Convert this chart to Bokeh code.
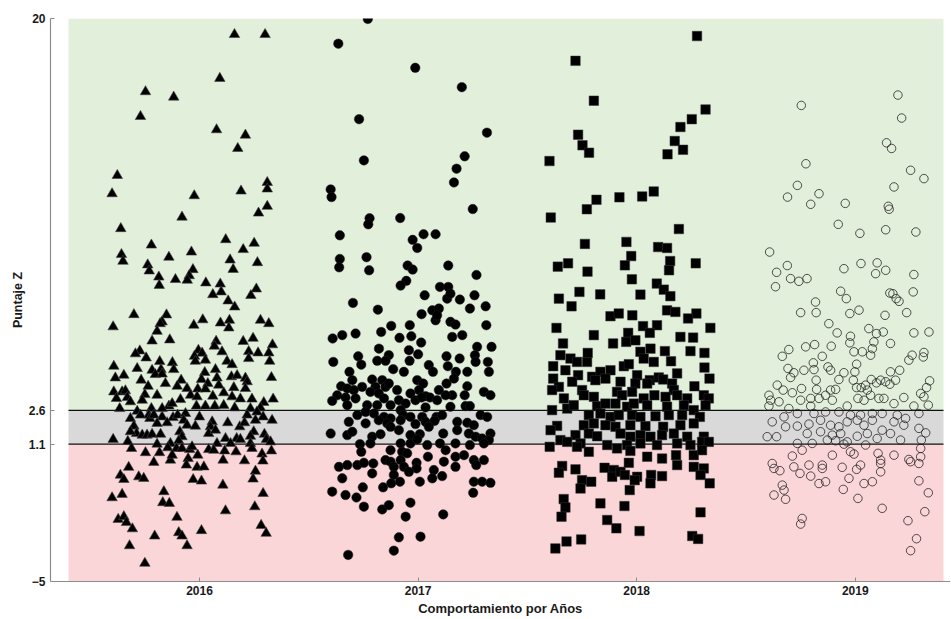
from bokeh.plotting import figure
from bokeh.models import FixedTicker
from bokeh.embed import file_html
from bokeh.resources import INLINE

# ---------------- data ----------------
years = ["2016", "2017", "2018", "2019"]
band_bottom = [-5, 1.1, 2.6]
band_top = [1.1, 2.6, 20]
band_colors = ["#fbd6d9", "#d9d9d9", "#e2efdb"]
thresholds = [1.1, 2.6]
y_ticks = [-5, 1.1, 2.6, 20]
y_tick_labels = ["\u22125", "1.1", "2.6", "20"]

# (jitter offset from the category, Puntaje Z)
pts_2016 = [
    (0.16, 19.29), (0.30, 19.29), (0.093, 17.34), (-0.247, 16.75), (-0.118, 16.51), (-0.27, 15.65),
    (0.078, 15.06), (0.21, 14.82), (0.175, 14.23), (-0.376, 13.03), (-0.40, 12.22), (-0.024, 12.13),
    (0.19, 12.34), (0.31, 12.72), (0.31, 12.43), (0.31, 11.66), (0.27, 11.36), (-0.08, 11.18),
    (-0.36, 10.67), (-0.22, 9.94), (0.12, 10.18), (0.25, 10.02), (0.20, 9.74), (-0.357, 9.52),
    (-0.35, 9.22), (-0.14, 9.40), (-0.037, 9.63), (0.14, 9.28), (0.265, 9.16), (-0.237, 9.06),
    (-0.23, 8.79), (-0.03, 8.85), (-0.047, 8.58), (-0.056, 8.38), (0.154, 8.86), (-0.186, 8.52),
    (-0.184, 8.15), (-0.11, 8.41), (0.029, 8.26), (0.095, 8.21), (0.061, 7.74), (0.099, 7.86),
    (0.26, 7.99), (0.235, 7.70),
    (0.131, 7.46), (0.161, 7.19), (-0.30, 6.85), (-0.151, 6.84), (-0.395, 6.31), (-0.171, 6.53),
    (-0.18, 6.45), (-0.194, 6.11), (-0.026, 6.38), (0.015, 6.62), (0.096, 6.48), (0.137, 6.60),
    (0.134, 6.26), (0.279, 6.60), (0.317, 6.45), (-0.217, 5.68), (-0.136, 5.73), (0.076, 5.67),
    (0.068, 5.45), (0.20, 5.66), (0.245, 5.80), (0.334, 5.51), (-0.273, 5.24), (-0.293, 5.11),
    (-0.244, 4.93), (-0.005, 5.27), (0.012, 5.14), (-0.023, 5.00), (0.027, 4.83), (-0.019, 4.78),
    (0.103, 5.20), (0.225, 5.21), (0.268, 5.15), (0.317, 5.15), (0.225, 4.90), (0.321, 4.78),
    (-0.392, 4.56), (-0.182, 4.77), (-0.124, 4.72), (-0.285, 4.46), (-0.217, 4.38), (-0.176, 4.41),
    (-0.118, 4.41), (-0.202, 4.19), (-0.171, 4.21), (0.126, 4.78), (0.149, 4.63), (0.024, 4.28),
    (0.073, 4.41), (0.146, 4.09), (0.172, 4.15), (0.21, 4.03), (0.218, 3.87), (0.329, 4.06),
    (-0.385, 4.04), (-0.346, 4.16), (-0.267, 3.94), (-0.156, 3.79), (-0.084, 3.94), (0.009, 3.97),
    (0.038, 3.79), (0.08, 4.04), (0.088, 3.72), (-0.235, 3.67), (-0.102, 3.67), (-0.057, 3.57),
    (-0.008, 3.55), (0.027, 3.55), (0.157, 3.61), (0.21, 3.57), (-0.392, 3.42), (-0.354, 3.42),
    (-0.339, 3.47), (-0.25, 3.30), (-0.194, 3.27), (-0.041, 3.27), (-0.011, 3.20), (0.061, 3.23),
    (0.111, 3.38), (0.149, 3.20), (0.187, 3.11), (0.24, 3.10), (0.337, 3.10), (-0.38, 3.13),
    (-0.33, 3.17), (-0.316, 2.98), (-0.262, 3.05), (-0.14, 2.79), (-0.125, 2.90), (-0.087, 3.08),
    (-0.014, 2.79), (0.027, 2.79), (0.07, 2.79), (0.111, 2.82), (0.161, 2.71), (0.233, 2.68),
    (0.294, 2.95), (0.279, 2.71), (-0.365, 2.68), (-0.285, 2.56), (-0.22, 2.68), (-0.171, 2.68),
    (0.263, 2.53), (-0.27, 2.39), (-0.232, 2.39), (-0.316, 2.24), (-0.171, 2.31), (-0.121, 2.28),
    (-0.10, 2.39), (-0.064, 2.46), (0.0, 2.31), (0.058, 2.09), (0.129, 2.05), (0.218, 2.39),
    (0.291, 2.31), (0.332, 2.16), (-0.227, 2.24), (-0.209, 2.39), (-0.194, 2.02), (-0.148, 2.05),
    (-0.072, 2.16), (-0.057, 1.94), (-0.019, 1.90), (0.05, 1.87), (0.184, 1.87), (0.206, 2.05),
    (0.256, 2.16), (-0.30, 1.90), (-0.288, 1.57), (-0.316, 1.65), (-0.262, 1.50), (-0.24, 1.50),
    (-0.217, 1.54), (-0.178, 1.54), (-0.09, 1.65), (-0.08, 1.43), (0.042, 1.57), (0.073, 1.72),
    (0.119, 1.35), (0.17, 1.35), (0.187, 1.31), (0.248, 1.65), (0.233, 1.45), (0.297, 1.54),
    (-0.395, 1.31), (-0.328, 1.22), (-0.194, 1.10), (-0.133, 1.13), (-0.095, 1.25), (0.08, 1.13),
    (0.142, 1.13), (0.233, 1.13), (0.306, 1.31), (0.325, 1.20), (-0.311, 0.91), (-0.247, 0.72),
    (-0.183, 0.72), (-0.145, 0.94), (-0.105, 0.91), (-0.08, 0.91), (-0.045, 0.86), (-0.034, 0.98),
    (0.042, 0.86), (0.065, 0.83), (0.115, 0.80), (0.167, 0.76), (0.24, 0.91), (0.286, 0.66),
    (0.329, 0.80), (-0.133, 0.39), (-0.209, 0.29), (-0.125, 0.61), (-0.052, 0.46), (-0.008, 0.61),
    (0.108, 0.39), (0.206, 0.36), (0.29, 0.35), (-0.06, 0.17), (-0.011, 0.07), (0.02, 0.09),
    (-0.324, 0.07), (0.256, -0.10), (-0.362, -0.28), (-0.346, -0.47), (-0.278, -0.35), (-0.255, -0.42),
    (0.245, -0.45), (-0.029, -0.47), (0.009, -0.54), (0.107, -0.72), (-0.40, -1.28), (-0.354, -1.13),
    (-0.163, -1.01), (0.291, -1.09), (-0.168, -1.50), (-0.138, -1.53), (0.253, -1.68), (0.119, -1.86),
    (-0.103, -2.15), (-0.372, -2.24), (-0.346, -2.12), (-0.334, -2.38), (-0.307, -2.66), (0.282, -2.51),
    (-0.205, -2.98), (-0.095, -2.83), (-0.08, -2.98), (0.009, -2.74), (0.305, -2.86), (-0.32, -3.41),
    (-0.057, -3.41), (-0.25, -4.19),
]

pts_2017 = [
    (-0.23, 19.98), (-0.365, 18.88), (-0.013, 17.81), (0.20, 16.95), (-0.27, 15.53), (0.315, 14.93),
    (-0.248, 13.70), (0.213, 13.88), (0.176, 13.33), (0.164, 12.72), (-0.40, 12.41), (-0.396, 12.07),
    (0.25, 11.54), (-0.222, 11.13), (-0.228, 10.86), (-0.082, 11.14), (-0.358, 10.37), (0.025, 10.42),
    (0.08, 10.42), (-0.025, 10.17), (-0.004, 9.81), (-0.358, 9.32), (-0.361, 8.95), (-0.236, 9.40),
    (-0.224, 8.82), (-0.048, 9.03), (-0.025, 8.85), (0.138, 9.03), (0.267, 8.61), (-0.054, 8.35),
    (-0.08, 8.14), (0.10, 8.08), (0.138, 8.08),
    (0.03, 7.71), (0.133, 7.56), (0.148, 7.78), (0.191, 7.52), (0.258, 7.71), (-0.298, 7.37),
    (-0.184, 7.07), (0.016, 6.87), (0.065, 7.04), (0.095, 7.12), (0.08, 6.60), (0.087, 6.82),
    (0.237, 7.12), (0.309, 7.22), (0.148, 6.53), (0.171, 6.41), (0.312, 6.38), (-0.123, 6.35),
    (-0.038, 6.38), (-0.391, 5.79), (-0.347, 5.94), (-0.286, 6.01), (-0.169, 6.08), (-0.085, 5.82),
    (-0.031, 5.89), (0.014, 5.61), (0.156, 5.86), (0.202, 5.94), (-0.179, 5.34), (-0.042, 5.27),
    (0.0, 5.09), (0.27, 5.42), (0.336, 5.42), (-0.388, 4.75), (-0.274, 5.00), (-0.26, 4.63),
    (-0.187, 4.80), (-0.134, 5.05), (-0.149, 4.80), (-0.039, 4.80), (0.049, 4.61), (0.068, 4.31),
    (0.13, 5.00), (0.136, 4.56), (0.19, 4.90), (0.26, 5.05), (0.263, 4.75), (0.319, 4.75),
    (-0.314, 4.31), (-0.114, 4.43), (-0.065, 4.31), (0.173, 4.31), (0.225, 4.31), (0.324, 4.31),
    (0.164, 4.01), (-0.301, 3.94), (-0.21, 3.97), (-0.164, 3.94), (-0.004, 3.94), (0.023, 3.79),
    (0.13, 3.79), (0.225, 3.67), (-0.352, 3.67), (-0.256, 3.64), (-0.195, 3.64), (-0.149, 3.64),
    (-0.134, 3.79), (-0.37, 3.27), (-0.324, 3.57), (-0.294, 3.50), (-0.218, 3.42), (-0.18, 3.35),
    (-0.096, 3.50), (-0.035, 3.35), (0.004, 3.50), (0.034, 3.23), (0.054, 3.17), (0.095, 3.50),
    (0.156, 3.27), (0.213, 3.27), (0.301, 3.42), (0.331, 3.27), (-0.393, 3.02), (-0.332, 3.17),
    (-0.286, 3.13), (-0.156, 3.13), (-0.088, 3.05), (-0.057, 2.90), (-0.012, 3.05), (0.016, 3.17),
    (0.087, 3.05), (0.126, 3.27), (0.148, 2.76), (0.217, 2.79), (0.237, 2.79), (-0.324, 2.83),
    (-0.233, 2.83), (-0.187, 2.83), (-0.126, 2.83), (-0.08, 2.61), (0.034, 2.73), (-0.278, 2.39),
    (-0.24, 2.53), (-0.202, 2.46), (-0.156, 2.31), (-0.126, 2.24), (-0.068, 2.39), (-0.035, 2.31),
    (0.019, 2.31), (0.084, 2.31), (0.11, 2.39), (0.286, 2.39), (0.316, 2.31), (-0.317, 2.09),
    (-0.24, 2.02), (-0.18, 2.16), (-0.141, 2.02), (-0.08, 2.16), (-0.012, 1.99), (0.034, 2.09),
    (0.075, 2.13), (0.179, 2.09), (0.225, 2.05), (0.255, 1.94), (-0.40, 1.57), (-0.324, 1.50),
    (-0.301, 1.65), (-0.21, 1.43), (-0.172, 1.54), (-0.126, 1.87), (-0.088, 1.72), (-0.035, 1.50),
    (0.008, 1.54), (0.049, 1.87), (0.115, 1.57), (0.179, 1.72), (0.232, 1.57), (0.263, 1.43),
    (0.293, 1.35), (0.331, 1.57), (0.324, 1.28), (-0.266, 1.10), (-0.218, 1.13), (-0.08, 1.13),
    (-0.035, 1.13), (-0.004, 1.31), (0.042, 1.06), (0.10, 1.13), (0.171, 1.13), (0.237, 1.06),
    (0.301, 1.13), (-0.26, 0.76), (-0.126, 0.83), (-0.073, 0.76), (-0.05, 0.69), (0.045, 0.54),
    (0.126, 0.83), (0.171, 0.54), (0.21, 0.61), (0.255, 0.39), (0.301, 0.39), (-0.362, 0.09),
    (-0.324, 0.17), (-0.278, 0.17), (-0.248, 0.27), (-0.205, 0.24), (-0.21, -0.20), (-0.149, 0.39),
    (-0.126, 0.32), (-0.111, 0.09), (-0.08, 0.39), (-0.065, 0.09), (-0.007, 0.27), (-0.007, 0.02),
    (-0.042, -0.13), (0.072, -0.05), (0.118, 0.32), (0.171, 0.09), (0.266, 0.17), (-0.347, -0.42),
    (-0.111, -0.27), (-0.083, -0.57), (-0.123, -0.64), (0.008, -0.57), (0.065, -0.42), (0.11, -0.32),
    (0.255, -0.57), (0.293, -0.57), (0.331, -0.62), (-0.393, -1.01), (-0.332, -1.16), (-0.253, -0.82),
    (-0.282, -1.27), (-0.16, -0.82), (0.252, -1.06), (-0.248, -1.68), (-0.164, -1.80), (-0.134, -1.61),
    (-0.035, -1.50), (-0.057, -2.12), (0.115, -2.02), (-0.088, -3.04), (0.011, -3.01), (-0.111, -3.63),
    (-0.32, -3.82),
]

pts_2018 = [
    (0.276, 19.22), (-0.28, 18.12), (-0.196, 16.35), (0.315, 15.96), (0.252, 15.53), (0.20, 15.18),
    (-0.268, 14.84), (0.174, 14.56), (-0.248, 14.37), (0.212, 14.17), (0.141, 13.97), (-0.218, 14.04),
    (-0.399, 13.67), (0.078, 12.32), (-0.184, 11.95), (-0.079, 12.06), (0.025, 12.10), (-0.228, 11.53),
    (-0.393, 11.16), (0.193, 10.65), (-0.237, 9.99), (-0.047, 10.08), (0.098, 9.85), (0.139, 9.81),
    (-0.025, 9.45), (-0.054, 9.04), (0.153, 9.23), (0.148, 8.82), (0.27, 9.13), (-0.361, 8.98),
    (-0.314, 9.13), (-0.225, 8.76), (-0.022, 8.42), (0.092, 8.23), (0.124, 7.96), (0.154, 7.67),
    (-0.262, 7.86), (-0.167, 7.75), (0.017, 7.74), (-0.356, 7.56),
    (-0.298, 7.22), (-0.367, 6.26), (-0.12, 6.78), (-0.082, 6.90), (-0.02, 6.82), (0.139, 7.04),
    (0.177, 6.97), (0.273, 6.90), (0.235, 6.68), (0.029, 6.34), (0.093, 6.38), (0.06, 6.04),
    (-0.039, 6.04), (0.337, 6.26), (-0.337, 5.57), (-0.196, 5.94), (-0.108, 5.57), (-0.048, 5.64),
    (-0.006, 5.71), (0.20, 5.86), (0.258, 5.83), (-0.349, 5.05), (-0.303, 4.90), (-0.273, 4.75),
    (-0.227, 4.75), (-0.224, 5.15), (0.017, 5.20), (0.063, 5.34), (0.032, 4.90), (0.078, 4.75),
    (0.129, 5.23), (0.157, 4.78), (0.246, 5.23), (0.31, 5.15), (-0.382, 4.56), (-0.326, 4.38),
    (-0.268, 4.16), (-0.204, 4.09), (-0.166, 4.31), (-0.12, 4.38), (-0.059, 4.56), (-0.036, 4.65),
    (0.002, 4.16), (0.06, 3.94), (0.101, 4.06), (0.121, 3.97), (0.185, 4.24), (0.31, 4.50),
    (0.333, 4.01), (-0.382, 4.01), (-0.356, 3.64), (-0.295, 3.87), (-0.189, 3.94), (-0.143, 4.01),
    (-0.074, 3.87), (-0.006, 3.79), (0.048, 3.79), (0.162, 3.79), (0.17, 3.50), (0.264, 3.67),
    (-0.387, 3.50), (-0.333, 3.13), (-0.25, 3.50), (-0.242, 3.27), (-0.196, 3.20), (-0.09, 3.42),
    (-0.067, 3.27), (-0.021, 3.42), (0.032, 3.13), (0.081, 3.27), (0.132, 3.20), (0.185, 3.27),
    (0.231, 3.13), (0.307, 3.27), (0.33, 3.13), (0.315, 2.83), (-0.318, 2.68), (-0.288, 2.83),
    (-0.181, 2.79), (-0.143, 2.90), (-0.097, 2.90), (-0.044, 2.76), (-0.013, 2.90), (0.048, 2.83),
    (0.139, 2.76), (0.216, 2.83), (0.261, 2.61), (-0.387, 2.61), (-0.219, 2.39), (-0.166, 2.46),
    (-0.12, 2.31), (-0.082, 2.39), (-0.021, 2.39), (0.017, 2.31), (0.086, 2.34), (0.147, 2.39),
    (0.208, 2.39), (0.289, 2.31), (-0.364, 1.91), (-0.242, 1.94), (-0.196, 2.02), (-0.143, 1.94),
    (-0.097, 1.87), (-0.029, 1.94), (0.04, 1.90), (0.121, 1.87), (0.20, 1.94), (0.261, 2.02),
    (-0.394, 1.72), (-0.28, 1.50), (-0.219, 1.57), (-0.181, 1.45), (-0.074, 1.57), (-0.029, 1.43),
    (0.017, 1.50), (0.063, 1.43), (0.116, 1.50), (0.17, 1.57), (0.231, 1.43), (0.307, 1.43),
    (-0.349, 1.28), (-0.318, 1.20), (-0.257, 1.13), (-0.135, 1.06), (-0.044, 1.06), (0.017, 1.13),
    (0.093, 1.06), (0.185, 1.13), (0.246, 1.06), (0.299, 1.20), (0.33, 1.20), (-0.398, 0.98),
    (-0.273, 0.98), (-0.219, 0.76), (-0.09, 0.91), (-0.029, 0.80), (0.048, 0.54), (0.116, 0.46),
    (0.18, 0.61), (0.261, 0.61), (0.299, 0.83), (0.185, 0.17), (-0.341, 0.13), (-0.356, -0.17),
    (-0.28, -0.02), (-0.147, 0.05), (-0.105, -0.05), (-0.112, -0.35), (-0.074, -0.13), (-0.054, -0.27),
    (-0.036, 0.27), (0.002, -0.35), (-0.009, -0.50), (0.066, -0.27), (0.063, -0.64), (0.116, -0.32),
    (0.261, 0.09), (0.307, 0.02), (0.292, -0.27), (0.334, -0.64), (-0.25, -0.50), (-0.208, -0.57),
    (-0.257, -0.87), (-0.032, -0.94), (-0.334, -1.34), (-0.326, -1.71), (-0.166, -1.53), (-0.056, -1.65),
    (0.292, -1.93), (-0.344, -2.12), (-0.135, -2.27), (-0.093, -2.64), (0.013, -2.76), (0.254, -2.98),
    (0.281, -3.11), (-0.321, -3.22), (-0.254, -3.13), (-0.372, -3.53),
]

pts_2019 = [
    (0.195, 16.60), (-0.247, 16.14), (0.212, 15.58), (0.143, 14.48), (0.166, 14.23), (-0.226, 13.55),
    (0.253, 13.26), (0.314, 12.89), (-0.265, 12.59), (0.177, 12.52), (-0.31, 12.07), (-0.166, 12.22),
    (-0.204, 11.75), (-0.046, 11.79), (0.151, 11.66), (0.155, 11.53), (-0.078, 10.86), (0.021, 10.46),
    (0.139, 10.62), (0.277, 10.52), (-0.392, 9.63), (-0.311, 9.03), (-0.36, 8.73), (-0.296, 8.45),
    (-0.258, 8.33), (-0.221, 8.45), (-0.365, 8.09), (-0.052, 8.89), (0.026, 9.12), (0.10, 9.15),
    (0.093, 8.67), (0.139, 8.82), (0.268, 8.63), (-0.067, 7.89), (-0.041, 7.56), (0.158, 7.81),
    (0.172, 7.78), (0.187, 7.56), (0.20, 7.44), (0.265, 7.86), (-0.182, 7.41),
    (-0.25, 6.94), (-0.179, 6.94), (-0.025, 6.90), (0.017, 7.05), (0.136, 6.82), (0.235, 6.94),
    (-0.121, 6.45), (-0.083, 6.04), (0.062, 6.23), (0.097, 6.01), (0.128, 6.08), (0.268, 6.04),
    (0.337, 6.08), (-0.022, 5.89), (-0.227, 5.42), (-0.186, 5.52), (-0.11, 5.45), (-0.025, 5.60),
    (0.085, 5.64), (0.161, 5.57), (-0.304, 5.30), (-0.334, 5.00), (-0.006, 5.20), (0.032, 5.20),
    (0.07, 5.05), (0.078, 5.34), (0.26, 5.05), (0.314, 5.17), (0.245, 4.83), (0.311, 4.97),
    (-0.151, 5.00), (-0.192, 4.71), (-0.189, 4.41), (-0.125, 4.53), (-0.113, 4.38), (0.006, 4.65),
    (-0.308, 4.46), (-0.281, 4.27), (-0.296, 4.06), (-0.235, 4.38), (-0.075, 3.97), (-0.052, 4.27),
    (-0.002, 4.31), (-0.009, 3.94), (0.073, 3.97), (0.097, 3.82), (0.161, 4.31), (0.203, 4.38),
    (0.184, 3.94), (0.139, 3.87), (0.34, 3.91), (-0.357, 3.72), (-0.33, 3.50), (-0.288, 3.38),
    (-0.246, 3.57), (-0.179, 3.94), (-0.177, 3.53), (-0.113, 3.50), (-0.09, 3.53), (0.006, 3.61),
    (0.027, 3.61), (0.047, 3.72), (0.055, 3.50), (0.116, 3.94), (0.158, 3.76), (0.299, 3.35),
    (0.326, 3.61), (-0.395, 3.27), (-0.387, 3.05), (-0.395, 2.79), (-0.349, 2.98), (-0.25, 3.05),
    (-0.204, 3.13), (-0.166, 3.13), (-0.136, 3.27), (-0.204, 2.79), (-0.105, 3.05), (-0.037, 2.79),
    (0.012, 3.13), (0.04, 3.05), (0.07, 3.27), (0.108, 3.13), (0.131, 3.13), (0.177, 2.90),
    (0.222, 3.17), (0.268, 2.79), (0.314, 3.20), (0.334, 2.83), (-0.304, 2.68), (-0.265, 2.46),
    (-0.189, 2.46), (-0.136, 2.53), (-0.075, 2.53), (-0.022, 2.39), (0.024, 2.39), (0.078, 2.46),
    (0.123, 2.46), (0.192, 2.39), (0.291, 2.46), (-0.38, 2.09), (-0.326, 2.31), (-0.319, 1.87),
    (-0.265, 1.90), (-0.212, 1.99), (-0.159, 2.16), (-0.113, 1.94), (-0.075, 1.87), (-0.037, 2.09),
    (0.009, 2.16), (0.04, 1.94), (0.078, 2.16), (0.123, 1.72), (0.177, 2.09), (0.222, 1.94),
    (0.23, 2.24), (0.291, 1.80), (0.322, 1.60), (-0.403, 1.43), (-0.36, 1.43), (-0.22, 1.57),
    (-0.159, 1.65), (-0.105, 1.50), (-0.067, 1.57), (-0.037, 1.20), (0.009, 1.45), (0.055, 1.57),
    (0.10, 1.35), (0.161, 1.57), (0.207, 1.28), (0.302, 1.28), (-0.265, 1.13), (-0.197, 1.13),
    (-0.128, 1.28), (-0.09, 1.25), (-0.052, 1.10), (0.047, 1.06), (-0.288, 0.57), (-0.243, 0.83),
    (-0.105, 0.61), (-0.022, 0.76), (-0.006, 0.66), (0.104, 0.69), (0.116, 0.39), (0.177, 0.61),
    (0.245, 0.42), (0.299, 0.91), (0.299, 0.54), (0.253, 0.32), (0.291, 0.24), (-0.38, 0.24),
    (-0.372, 0.02), (-0.345, -0.08), (-0.281, 0.09), (-0.253, -0.20), (-0.212, 0.17), (-0.151, 0.17),
    (-0.151, 0.02), (-0.06, 0.07), (0.006, -0.02), (0.024, 0.17), (0.116, 0.24), (0.116, -0.13),
    (-0.204, -0.32), (-0.166, -0.65), (-0.136, -0.57), (-0.029, -0.42), (-0.055, -0.91), (0.04, -0.65),
    (0.078, -0.57), (-0.334, -0.72), (-0.326, -0.94), (-0.372, -1.16), (-0.319, -1.35), (0.291, -0.53),
    (0.334, -1.06), (0.012, -1.31), (0.123, -1.75), (0.318, -1.90), (-0.243, -2.20), (-0.25, -2.45),
    (0.241, -2.30), (0.28, -3.10), (0.253, -3.63),
]

series = [pts_2016, pts_2017, pts_2018, pts_2019]

# ---------------- figure ----------------
X_LO, X_HI = 0.3184, 4.4355
BAND_LEFT, BAND_RIGHT = 0.4007, 4.4035

p = figure(width=950, height=618, x_range=(X_LO, X_HI), y_range=(-5, 20),
           output_backend="svg", toolbar_location=None,
           min_border_left=50, min_border_right=0, min_border_top=18, min_border_bottom=37)
p.outline_line_color = None
p.xgrid.visible = False
p.ygrid.visible = False
p.background_fill_color = "white"
p.border_fill_color = "white"

p.quad(left=BAND_LEFT, right=BAND_RIGHT, bottom=band_bottom, top=band_top,
       fill_color=band_colors, line_color=None)
p.segment(x0=BAND_LEFT, x1=BAND_RIGHT, y0=thresholds, y1=thresholds,
          line_color="#111111", line_width=1.3)

for i, pts in enumerate(series):
    xs = [i + 1 + dx for dx, _ in pts]
    ys = [z for _, z in pts]
    if i == 0:
        p.scatter(xs, ys, marker="triangle", size=10.5, fill_color="black",
                  line_color="#444444", line_width=0.6)
    elif i == 1:
        p.scatter(xs, ys, marker="circle", size=9.5, fill_color="black",
                  line_color="#222222", line_width=0.5)
    elif i == 2:
        p.scatter(xs, ys, marker="square", size=9.5, fill_color="black",
                  line_color="#333333", line_width=0.5)
    else:
        p.scatter(xs, ys, marker="circle", size=8.5, fill_color=None,
                  line_color="#1a1a1a", line_alpha=0.75, line_width=1.0)

FONT = "Liberation Sans"
for ax in (p.xaxis[0], p.yaxis[0]):
    ax.axis_line_color = "#8c8c8c"
    ax.axis_line_width = 1.2
    ax.major_tick_line_color = "#8c8c8c"
    ax.major_tick_in = 4
    ax.major_tick_out = 0
    ax.minor_tick_line_color = None
    ax.major_label_text_font = FONT
    ax.major_label_text_font_style = "bold"
    ax.major_label_text_font_size = "12px"
    ax.major_label_text_color = "#1a1a1a"
    ax.axis_label_text_font = FONT
    ax.axis_label_text_font_style = "bold"
    ax.axis_label_text_color = "#1a1a1a"

p.xaxis.ticker = FixedTicker(ticks=[1, 2, 3, 4])
p.xaxis.major_label_overrides = {i + 1: y for i, y in enumerate(years)}
p.xaxis.axis_label = "Comportamiento por Años"
p.xaxis.axis_label_text_font_size = "13px"
p.xaxis.major_label_standoff = 4
p.xaxis.axis_label_standoff = 3

p.yaxis.ticker = FixedTicker(ticks=y_ticks)
p.yaxis.major_label_overrides = {t: l for t, l in zip(y_ticks, y_tick_labels)}
p.yaxis.axis_label = "Puntaje Z"
p.yaxis.axis_label_text_font_size = "12.5px"
p.yaxis.major_label_standoff = 5
p.yaxis.axis_label_standoff = 1

open("out.html", "w").write(file_html(p, INLINE))
